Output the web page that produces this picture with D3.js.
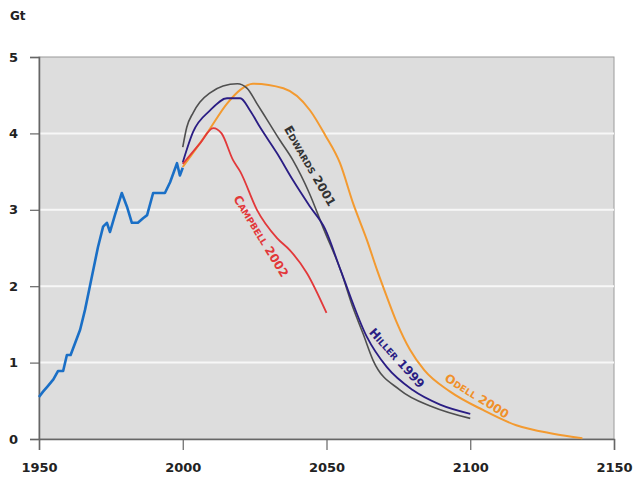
<!DOCTYPE html>
<html>
<head>
<meta charset="utf-8">
<style>
  body { margin: 0; background: #fff; }
  text { font-family: "DejaVu Sans", sans-serif; }
</style>
</head>
<body>
<div id="chart"></div>
<script src="https://d3js.org/d3.v7.min.js"></script>
<script>
// historical production (Gt)
const histYears = [1950, 1951.4, 1953, 1955, 1956.6, 1958.4, 1959.7, 1961, 1964.3, 1966, 1967.7, 1970.5, 1972.3, 1973.6, 1974.7, 1976.4, 1978.8, 1980.6, 1982.3, 1984.4, 1986.2, 1987.6, 1989.7, 1993.8, 1995.6, 1998, 1999, 2000];
const histValues = [0.55, 0.62, 0.69, 0.78, 0.89, 0.89, 1.1, 1.1, 1.43, 1.69, 2.0, 2.51, 2.78, 2.83, 2.71, 2.93, 3.22, 3.04, 2.83, 2.83, 2.89, 2.93, 3.22, 3.22, 3.36, 3.61, 3.45, 3.55];

// forecasts
const edwardsYears = [2000, 2001.4, 2003.6, 2006, 2009.5, 2014, 2019, 2022.4, 2025.8, 2029.3, 2033.8, 2038.3, 2044, 2049, 2055, 2059.2, 2062.7, 2066.2, 2075.6, 2087, 2100];
const edwardsValues = [3.82, 4.08, 4.27, 4.41, 4.53, 4.62, 4.65, 4.59, 4.39, 4.18, 3.91, 3.65, 3.22, 2.75, 2.2, 1.72, 1.38, 1.03, 0.64, 0.42, 0.27];

const hillerYears = [2000, 2003.6, 2009.5, 2015.4, 2020, 2023.4, 2026.9, 2032.8, 2038.3, 2044.3, 2049.5, 2055, 2064, 2071, 2080, 2089.5, 2100];
const hillerValues = [3.62, 4.02, 4.3, 4.46, 4.46, 4.3, 4.08, 3.74, 3.39, 3.04, 2.75, 2.2, 1.34, 0.94, 0.64, 0.45, 0.33];

const campbellYears = [2000, 2006, 2010.6, 2013.5, 2017.5, 2020, 2025.8, 2032.8, 2037.3, 2043.2, 2050];
const campbellValues = [3.6, 3.87, 4.07, 4.0, 3.65, 3.5, 3.0, 2.63, 2.47, 2.17, 1.65];

const odellYears = [2000, 2008.4, 2015.4, 2020, 2024.4, 2035, 2044.3, 2049.5, 2054.7, 2059.2, 2064.1, 2067.6, 2071, 2074.5, 2079, 2084, 2093, 2104.4, 2116, 2128.8, 2139];
const odellValues = [3.56, 4.0, 4.39, 4.57, 4.65, 4.59, 4.3, 3.98, 3.61, 3.09, 2.6, 2.21, 1.86, 1.52, 1.17, 0.9, 0.62, 0.38, 0.18, 0.07, 0.01];

const xTicks = [1950, 2000, 2050, 2100, 2150];
const yTicks = [0, 1, 2, 3, 4, 5];

const width = 633, height = 481;
const margin = { top: 57, right: 19, bottom: 42, left: 39 };
const innerW = width - margin.left - margin.right;
const innerH = height - margin.top - margin.bottom;

const svg = d3.select("#chart").append("svg")
    .attr("width", width)
    .attr("height", height);

const g = svg.append("g")
    .attr("transform", `translate(${margin.left},${margin.top})`);

const x = d3.scaleLinear().domain([1950, 2150]).range([0, innerW]);
const y = d3.scaleLinear().domain([0, 5]).range([innerH, 0]);

// plot background
g.append("rect")
    .attr("width", innerW)
    .attr("height", innerH)
    .attr("fill", "#dddddd")
    .attr("stroke", "#9a9a9a")
    .attr("stroke-width", 1);

// gridlines
g.selectAll(".grid")
    .data(yTicks.filter(d => d > 0 && d < 5))
    .enter().append("line")
    .attr("x1", 0).attr("x2", innerW)
    .attr("y1", d => y(d)).attr("y2", d => y(d))
    .attr("stroke", "#f7f7f7")
    .attr("stroke-width", 2);

// axes
const xAxis = g.append("g")
    .attr("transform", `translate(0,${innerH})`)
    .call(d3.axisBottom(x).tickValues(xTicks).tickFormat(d3.format("d")).tickSize(11).tickPadding(8));
const yAxis = g.append("g")
    .call(d3.axisLeft(y).tickValues(yTicks).tickFormat(d3.format("d")).tickSize(9).tickPadding(12));

[xAxis, yAxis].forEach(a => {
  a.select(".domain").attr("stroke", "#666").attr("stroke-width", 1.5);
  a.selectAll(".tick line").attr("stroke", "#666").attr("stroke-width", 1.2);
  a.selectAll(".tick text")
    .attr("font-family", "DejaVu Sans, sans-serif")
    .attr("font-size", 13)
    .attr("font-weight", "bold")
    .attr("fill", "#222");
});
xAxis.selectAll(".tick text").attr("dy", "1.1em");

svg.append("text")
    .attr("x", 10).attr("y", 20)
    .attr("font-size", 12)
    .attr("font-weight", "bold")
    .attr("fill", "#222")
    .text("Gt");

const line = d3.line()
    .x(d => x(d[0]))
    .y(d => y(d[1]))
    .curve(d3.curveMonotoneX);

const series = [
  { years: odellYears, values: odellValues, color: "#f39a30", w: 2 },
  { years: edwardsYears, values: edwardsValues, color: "#4f4f4f", w: 1.6 },
  { years: hillerYears, values: hillerValues, color: "#2a1d84", w: 1.8 },
  { years: campbellYears, values: campbellValues, color: "#e2383a", w: 1.8 },
];

series.forEach(s => {
  g.append("path")
    .datum(s.years.map((yr, i) => [yr, s.values[i]]))
    .attr("fill", "none")
    .attr("stroke", s.color)
    .attr("stroke-width", s.w)
    .attr("d", line);
});

g.append("path")
    .datum(histYears.map((yr, i) => [yr, histValues[i]]))
    .attr("fill", "none")
    .attr("stroke", "#1a6fc6")
    .attr("stroke-width", 2.6)
    .attr("stroke-linejoin", "round")
    .attr("d", d3.line().x(d => x(d[0])).y(d => y(d[1])));

// curve labels (small caps)
const labels = [
  { name: "Edwards", year: "2001", cx: 310, cy: 166, angle: 60, color: "#333" },
  { name: "Campbell", year: "2002", cx: 261, cy: 236, angle: 58.5, color: "#e2383a" },
  { name: "Hiller", year: "1999", cx: 397, cy: 358, angle: 48, color: "#2a1d84" },
  { name: "Odell", year: "2000", cx: 477, cy: 396, angle: 32, color: "#f0902a" },
];

labels.forEach(l => {
  const t = svg.append("text")
    .attr("transform", `translate(${l.cx},${l.cy}) rotate(${l.angle})`)
    .attr("text-anchor", "middle")
    .attr("dy", "0.35em")
    .attr("font-size", 12)
    .attr("font-weight", "bold")
    .attr("fill", l.color);
  t.append("tspan").text(l.name[0]);
  t.append("tspan").attr("font-size", 9).text(l.name.slice(1).toUpperCase());
  t.append("tspan").text(" " + l.year);
});
</script>
</body>
</html>
